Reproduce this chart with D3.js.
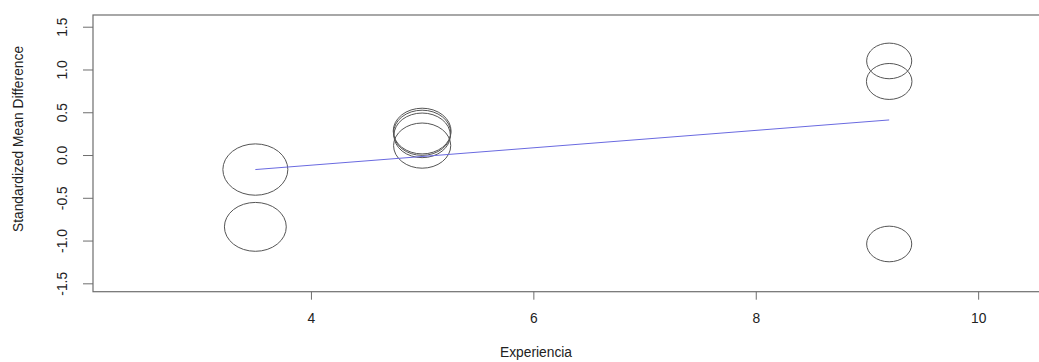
<!DOCTYPE html>
<html>
<head>
<meta charset="utf-8">
<script src="https://cdn.jsdelivr.net/npm/d3@7"></script>
<style>
html,body{margin:0;padding:0;background:#fff;}
svg{display:block;font-family:"Liberation Sans",Arial,sans-serif;}
</style>
</head>
<body>
<svg id="chart" width="1039" height="362"></svg>
<script>
// Study-level data (moderator "Experiencia" vs standardized mean difference)
const experiencia = [3.5, 3.5, 5, 5, 5, 5, 9.2, 9.2, 9.2];
const smd        = [-0.17, -0.84, 0.28, 0.26, 0.23, 0.11, 1.10, 0.86, -1.04];
const weights    = [10.6, 9.6, 8.4, 8.2, 8.0, 8.2, 5.1, 5.2, 5.1];
// Fitted meta-regression line endpoints
const fitX = [3.5, 9.2];
const fitY = [-0.17, 0.41];
const xTicks = [4, 6, 8, 10];
const yTicks = [-1.5, -1.0, -0.5, 0.0, 0.5, 1.0, 1.5];

(function () {
const svg = d3.select("#chart");
const mLeft = 93, mRight = 1080, mTop = 15, mBottom = 291.7;

const x = d3.scaleLinear().domain([2.04, 10.9]).range([mLeft, mLeft + (10.9 - 2.04) * 111.2]);
const y = d3.scaleLinear().domain([-1.598, 1.637]).range([mBottom, mTop]);
const r = d3.scaleSqrt().domain([0, 10.6]).range([0, 32.5]);
const aspect = 0.79;

const axisCol = "#6e6e6e";
const font = "Liberation Sans, Arial, sans-serif";
const fs = 13.8;

// plot box
svg.append("rect")
  .attr("x", mLeft).attr("y", mTop)
  .attr("width", mRight - mLeft).attr("height", mBottom - mTop)
  .attr("fill", "none").attr("stroke", axisCol).attr("stroke-width", 1.2);

// x axis
const xAxis = svg.append("g").attr("transform", `translate(0,${mBottom})`)
  .call(d3.axisBottom(x).tickValues(xTicks).tickSize(8).tickFormat(d3.format("d")));
xAxis.select(".domain").remove();
xAxis.selectAll("line").attr("stroke", axisCol);
xAxis.selectAll("text").remove();
xAxis.selectAll(".tick").append("text")
  .attr("transform", "translate(0,31.5)")
  .attr("text-anchor", "middle")
  .attr("font-size", fs).attr("fill", "#222").attr("font-family", font)
  .text(d => d3.format("d")(d));

// y axis
const yAxis = svg.append("g").attr("transform", `translate(${mLeft},0)`)
  .call(d3.axisLeft(y).tickValues(yTicks).tickSize(10).tickFormat(d3.format(".1f")));
yAxis.select(".domain").remove();
yAxis.selectAll("line").attr("stroke", axisCol);
yAxis.selectAll("text").remove();
yAxis.selectAll(".tick").append("text")
  .attr("transform", "translate(-26,0) rotate(-90)")
  .attr("text-anchor", "middle")
  .attr("font-size", fs).attr("fill", "#222").attr("font-family", font)
  .text(d => d3.format(".1f")(d).replace("\u2212", "-"));

// axis titles
svg.append("text")
  .attr("transform", "translate(22.5,139) rotate(-90)")
  .attr("text-anchor", "middle").attr("font-size", fs).attr("fill", "#222").attr("font-family", font)
  .text("Standardized Mean Difference");
svg.append("text")
  .attr("transform", "translate(536,357)")
  .attr("text-anchor", "middle").attr("font-size", fs).attr("fill", "#222").attr("font-family", font)
  .text("Experiencia");

const plot = svg.append("g");

// points (bubbles)
const pts = experiencia.map((d, i) => ({x: d, y: smd[i], w: weights[i]}));
plot.selectAll("ellipse").data(pts).enter().append("ellipse")
  .attr("cx", d => x(d.x)).attr("cy", d => y(d.y))
  .attr("rx", d => r(d.w)).attr("ry", d => r(d.w) * aspect)
  .attr("fill", "none").attr("stroke", "#555").attr("stroke-width", 1);

// regression line
plot.append("path")
  .datum(fitX.map((d, i) => [d, fitY[i]]))
  .attr("d", d3.line().x(d => x(d[0])).y(d => y(d[1])))
  .attr("fill", "none").attr("stroke", "#6a6ae0").attr("stroke-width", 1);
})();
</script>
</body>
</html>
